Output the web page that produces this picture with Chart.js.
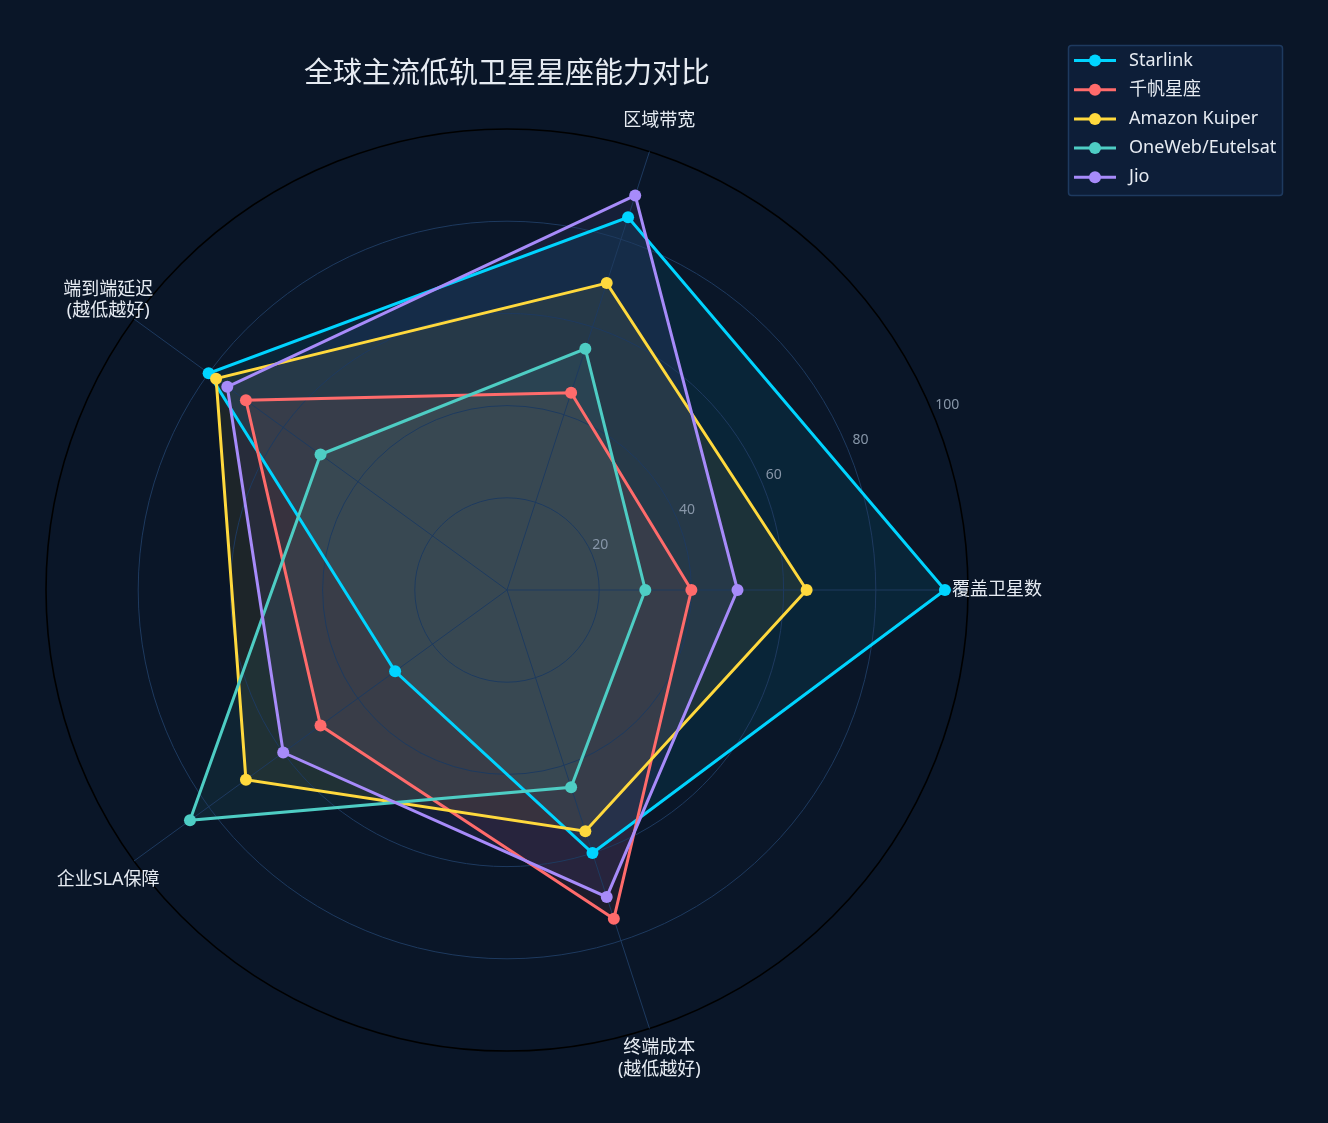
<!DOCTYPE html>
<html>
<head>
<meta charset="utf-8">
<script src="https://cdn.jsdelivr.net/npm/chart.js@4"></script>
<style>
  html, body { margin: 0; padding: 0; background: #0a1628; }
  #wrap { width: 1328px; height: 1123px; position: relative; }
</style>
</head>
<body>
<div id="wrap"><canvas id="myChart"></canvas></div>
<script>
// axes in the order they appear, counter-clockwise from the right
const axes = ['覆盖卫星数', '区域带宽', ['端到端延迟', '(越低越好)'], '企业SLA保障', ['终端成本', '(越低越好)']];
const seriesNames = ['Starlink', '千帆星座', 'Amazon Kuiper', 'OneWeb/Eutelsat', 'Jio'];
const starlink = [95, 85, 80, 30, 60];
const qianfan = [40, 45, 70, 50, 75];
const kuiper = [65, 70, 78, 70, 55];
const oneweb = [30, 55, 50, 85, 45];
const jio = [50, 90, 75, 60, 70];
const tickValues = [20, 40, 60, 80, 100];
const colors = ['#00d4ff', '#ff6b6b', '#ffd93d', '#4ecdc4', '#a78bfa'];

// Chart.js goes clockwise, the reference goes counter-clockwise
const ccw = arr => [arr[0], ...arr.slice(1).reverse()];

const fontFamily = '"Noto Sans", "Noto Sans CJK SC", sans-serif';

function hexA(hex, a) {
    const n = parseInt(hex.slice(1), 16);
    return 'rgba(' + (n >> 16) + ',' + ((n >> 8) & 255) + ',' + (n & 255) + ',' + a + ')';
}

const allSeries = [starlink, qianfan, kuiper, oneweb, jio];

const datasets = allSeries.map((vals, i) => ({
    label: seriesNames[i],
    data: ccw(vals),
    borderColor: colors[i],
    backgroundColor: hexA(colors[i], 0.08),
    pointBackgroundColor: colors[i],
    pointBorderColor: colors[i],
    pointBorderWidth: 0,
    pointRadius: 6,
    borderWidth: 3,
    fill: 'origin',
    order: allSeries.length - i
}));

const extras = {
    id: 'extras',
    afterDraw(chart) {
        const c = chart.ctx;
        const s = chart.scales.r;
        c.save();

        // radial tick labels, along a line ~22 degrees above the first axis
        const a = 22 * Math.PI / 180;
        c.font = '14px ' + fontFamily;
        c.fillStyle = '#8796a8';
        c.textAlign = 'center';
        c.textBaseline = 'middle';
        tickValues.forEach(v => {
            const r = s.getDistanceFromCenterForValue(v) * 1.015;
            c.fillText(String(v), s.xCenter + r * Math.cos(a) + 6.5, s.yCenter - r * Math.sin(a) - 10);
        });

        // axis labels
        c.font = '18px ' + fontFamily;
        c.fillStyle = '#e6ebf2';
        const labels = ccw(axes);
        labels.forEach((lab, i) => {
            const lines = Array.isArray(lab) ? lab : [lab];
            const p = s.getPointPosition(i, s.drawingArea + 32);
            const lh = 21.5;
            lines.forEach((t, k) => {
                c.fillText(t, p.x - (i === 0 ? 3 : 0), p.y + (k - (lines.length - 1) / 2) * lh);
            });
        });

        // legend box
        const bx = 1068.5, by = 45.5, bw = 214, bh = 150;
        c.beginPath();
        c.roundRect(bx, by, bw, bh, 3);
        c.fillStyle = '#0d1e38';
        c.fill();
        c.lineWidth = 1.5;
        c.strokeStyle = '#1e3a5f';
        c.stroke();
        c.textAlign = 'left';
        chart.data.datasets.forEach((ds, i) => {
            const y = 60.5 + i * 29.2;
            c.strokeStyle = ds.borderColor;
            c.lineWidth = 3;
            c.beginPath();
            c.moveTo(1074, y);
            c.lineTo(1116, y);
            c.stroke();
            c.fillStyle = ds.borderColor;
            c.beginPath();
            c.arc(1095, y, 6, 0, Math.PI * 2);
            c.fill();
            c.fillStyle = '#e6ebf2';
            c.fillText(ds.label, 1129, y);
        });
        c.restore();
    }
};

const ctx = document.getElementById('myChart').getContext('2d');

new Chart(ctx, {
    type: 'radar',
    data: {
        labels: ccw(axes),
        datasets: datasets
    },
    options: {
        responsive: true,
        maintainAspectRatio: false,
        animation: false,
        layout: {
            padding: { left: 46, right: 360, top: 0, bottom: 72 }
        },
        elements: {
            line: { tension: 0 }
        },
        plugins: {
            legend: { display: false },
            tooltip: { enabled: false },
            // fills go under the grid, lines and points over it
            filler: { drawTime: 'beforeDraw' },
            title: {
                display: true,
                text: '全球主流低轨卫星星座能力对比',
                color: '#e6ebf2',
                font: { size: 29, family: fontFamily, weight: 'normal', lineHeight: 1.2 },
                padding: { top: 57.6, bottom: 36.6 }
            }
        },
        scales: {
            r: {
                min: 0,
                max: 100,
                startAngle: 90,
                ticks: {
                    display: false,
                    stepSize: 20
                },
                pointLabels: { display: false },
                grid: {
                    circular: true,
                    color: c => c.tick && c.tick.value === 100 ? '#000000' : '#1e3a5f',
                    lineWidth: c => c.tick && c.tick.value === 100 ? 1.6 : 1
                },
                angleLines: {
                    color: '#1e3a5f',
                    lineWidth: 1
                }
            }
        }
    },
    plugins: [extras]
});
</script>
</body>
</html>
